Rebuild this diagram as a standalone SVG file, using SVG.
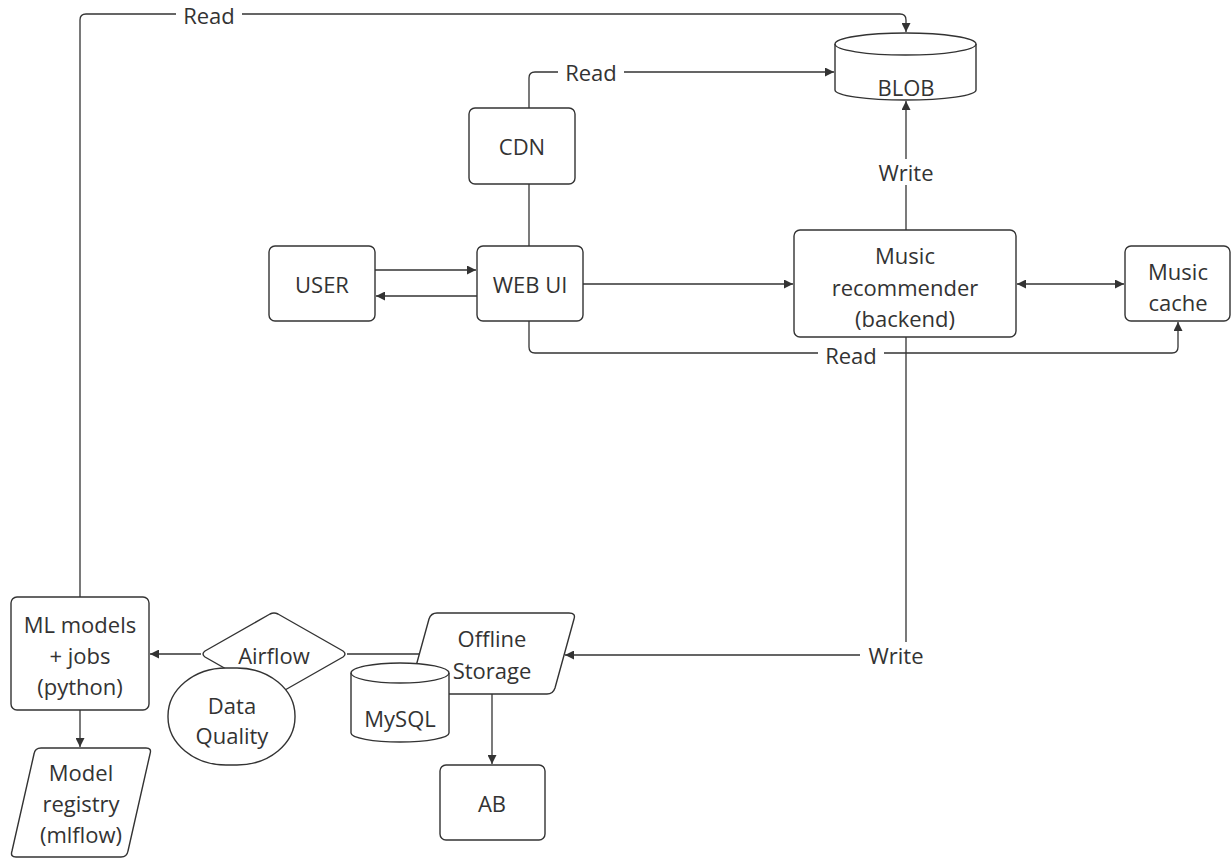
<svg xmlns="http://www.w3.org/2000/svg" width="1231" height="859" viewBox="0 0 1231 859">
<style>
.n{fill:#fff;stroke:#333;stroke-width:1.4}
.c{fill:none;stroke:#333;stroke-width:1.3}
.t{font-family:"Open Sans","Noto Sans",sans-serif;font-size:22px;fill:#333;text-anchor:middle;dominant-baseline:central}
.lb{fill:#fff}
</style>
<defs>
<marker id="a" viewBox="0 0 10 10" refX="10" refY="5" markerWidth="9" markerHeight="9" markerUnits="userSpaceOnUse" orient="auto-start-reverse">
<path d="M0,0 L10,5 L0,10 z" fill="#333"/>
</marker>
</defs>
<rect width="1231" height="859" fill="#fff"/>
<g id="connectors">
<path class="c" d="M80,597 V20 Q80,14 86,14 H900 Q906,14 906,20 V32" marker-end="url(#a)"/>
<path class="c" d="M529,108 V78 Q529,72 535,72 H834" marker-end="url(#a)"/>
<path class="c" d="M529,184 V246"/>
<path class="c" d="M375,270 H476" marker-end="url(#a)"/>
<path class="c" d="M477,296 H376" marker-end="url(#a)"/>
<path class="c" d="M583,284 H793" marker-end="url(#a)"/>
<path class="c" d="M1017,284 H1124" marker-start="url(#a)" marker-end="url(#a)"/>
<path class="c" d="M906,230 V101" marker-end="url(#a)"/>
<path class="c" d="M529,321 V347 Q529,353 535,353 H1172 Q1178,353 1178,347 V322" marker-end="url(#a)"/>
<path class="c" d="M906,337 V655 H565" marker-end="url(#a)"/>
<path class="c" d="M201,654 H150" marker-end="url(#a)"/>
<path class="c" d="M347,654 H430" marker-end="url(#a)"/>
<path class="c" d="M492,694 V764" marker-end="url(#a)"/>
<path class="c" d="M80,710 V747" marker-end="url(#a)"/>
<rect class="lb" x="176" y="3" width="66" height="24"/>
<text class="t" x="209" y="15">Read</text>
<rect class="lb" x="558" y="60" width="66" height="24"/>
<text class="t" x="591" y="72">Read</text>
<rect class="lb" x="870" y="159" width="72" height="26"/>
<text class="t" x="906" y="172">Write</text>
<rect class="lb" x="818" y="343" width="66" height="24"/>
<text class="t" x="851" y="355">Read</text>
<rect class="lb" x="860" y="642" width="72" height="26"/>
<text class="t" x="896" y="655">Write</text>
</g>
<g id="blob">
<path class="n" d="M835,44 A70.5,11 0 0 1 976,44 V90 A70.5,10 0 0 1 835,90 Z"/>
<path class="c" d="M835,44 A70.5,11 0 0 0 976,44"/>
<text class="t" x="906" y="87">BLOB</text>
</g>
<g id="cdn">
<rect class="n" x="469" y="108" width="106" height="76" rx="6"/>
<text class="t" x="522" y="146">CDN</text>
</g>
<g id="user">
<rect class="n" x="269" y="246" width="106" height="75" rx="6"/>
<text class="t" x="322" y="284">USER</text>
</g>
<g id="webui">
<rect class="n" x="477" y="246" width="106" height="75" rx="6"/>
<text class="t" x="530" y="284">WEB UI</text>
</g>
<g id="recommender">
<rect class="n" x="794" y="230" width="222" height="107" rx="6"/>
<text class="t" x="905" y="255">Music</text>
<text class="t" x="905" y="287">recommender</text>
<text class="t" x="905" y="318">(backend)</text>
</g>
<g id="cache">
<rect class="n" x="1125" y="246" width="105" height="75" rx="6"/>
<text class="t" x="1178" y="271">Music</text>
<text class="t" x="1178" y="302">cache</text>
</g>
<g id="mlmodels">
<rect class="n" x="11" y="597" width="138" height="113" rx="6"/>
<text class="t" x="80" y="624">ML models</text>
<text class="t" x="80" y="655">+ jobs</text>
<text class="t" x="80" y="686">(python)</text>
</g>
<g id="registry">
<path class="n" d="M41,748 H146 Q152,748 150,754 L128,851 Q127,857 121,857 H16 Q10,857 12,851 L34,754 Q35,748 41,748 Z"/>
<text class="t" x="81" y="772">Model</text>
<text class="t" x="81" y="803">registry</text>
<text class="t" x="81" y="834">(mlflow)</text>
</g>
<g id="airflow">
<path class="n" d="M205,651 L270,614 Q274,612 278,614 L343,651 Q347,654 343,657 L278,694 Q274,696 270,694 L205,657 Q201,654 205,651 Z"/>
<text class="t" x="274" y="655">Airflow</text>
</g>
<g id="dataquality">
<rect class="n" x="168" y="668" width="127" height="97" rx="58" ry="48"/>
<text class="t" x="232" y="705">Data</text>
<text class="t" x="232" y="735">Quality</text>
</g>
<g id="offline">
<path class="n" d="M437,613 H569 Q576,613 574,619 L555,688 Q553,694 547,694 H415 Q408,694 410,688 L429,619 Q431,613 437,613 Z"/>
<text class="t" x="492" y="638">Offline</text>
<text class="t" x="492" y="670">Storage</text>
</g>
<g id="mysql">
<path class="n" d="M351,673 A49,10 0 0 1 449,673 V733 A49,9 0 0 1 351,733 Z"/>
<path class="c" d="M351,673 A49,10 0 0 0 449,673"/>
<text class="t" x="400" y="718">MySQL</text>
</g>
<g id="ab">
<rect class="n" x="440" y="765" width="105" height="75" rx="6"/>
<text class="t" x="492" y="803">AB</text>
</g>
</svg>
